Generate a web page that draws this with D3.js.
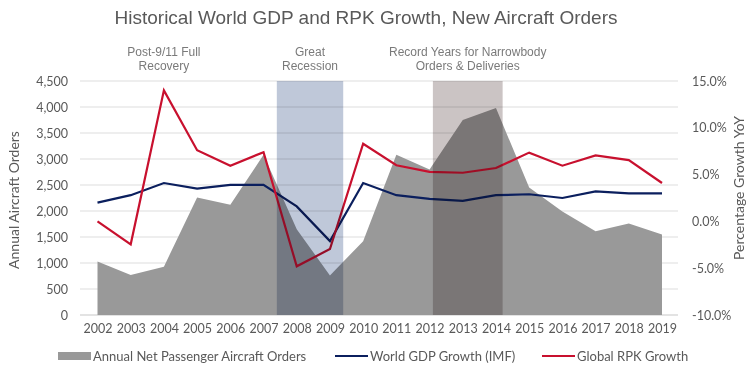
<!DOCTYPE html>
<html>
<head>
<meta charset="utf-8">
<script src="https://cdn.jsdelivr.net/npm/d3@7"></script>
<style>
  body { margin: 0; background: #fff; }
  svg text { font-family: "Liberation Sans", Arial, sans-serif; }
  .tick text { font-family: Lato, "Open Sans", sans-serif; font-size: 12.5px; fill: #595959; }
</style>
</head>
<body>
<svg id="chart" width="750" height="370"></svg>
<script>
// Data
const years = d3.range(2002, 2020);
const orders = [1030, 770, 930, 2260, 2120, 3080, 1650, 760, 1420, 3080, 2800, 3750, 3980, 2450, 1990, 1610, 1760, 1550];
const gdpGrowth = [2.0, 2.8, 4.1, 3.5, 3.9, 3.9, 1.6, -2.1, 4.1, 2.8, 2.4, 2.2, 2.8, 2.9, 2.5, 3.2, 3.0, 3.0];
const rpkGrowth = [0.0, -2.45, 14.0, 7.6, 5.95, 7.4, -4.8, -2.95, 8.3, 6.0, 5.3, 5.2, 5.7, 7.35, 5.95, 7.05, 6.55, 4.1];
const leftTicks = d3.range(0, 4501, 500);
const rightTicks = [-10, -5, 0, 5, 10, 15];

// Highlighted periods, in fractional years
const bands = [
  { from: 2007.4, to: 2009.4, color: "#bfc8d9", label: ["Great", "Recession"] },
  { from: 2012.1, to: 2014.2, color: "#cbc4c4", label: ["Record Years for Narrowbody", "Orders & Deliveries"] }
];
const notes = [{ year: 2004.0, label: ["Post-9/11 Full", "Recovery"] }];

const legend = [
  { name: "Annual Net Passenger Aircraft Orders", kind: "area", color: "#999999" },
  { name: "World GDP Growth (IMF)", kind: "line", color: "#0b1f5e" },
  { name: "Global RPK Growth", kind: "line", color: "#c8102e" }
];

const svg = d3.select("#chart");
const plot = { left: 80, right: 678, top: 81, bottom: 315 };

const x = d3.scaleLinear().domain([2002, 2019]).range([97.5, 662]);
const yL = d3.scaleLinear().domain([0, 4500]).range([plot.bottom, plot.top]);
const yR = d3.scaleLinear().domain([-10, 15]).range([plot.bottom, plot.top]);

// gridlines
svg.append("g")
  .selectAll("line")
  .data(leftTicks)
  .join("line")
  .attr("x1", plot.left)
  .attr("x2", plot.right)
  .attr("y1", (d) => yL(d))
  .attr("y2", (d) => yL(d))
  .attr("stroke", (d) => (d === 0 ? "#c8c8c8" : "#dedede"))
  .attr("stroke-width", 1.2);

// orders area
svg.append("path")
  .datum(orders)
  .attr("fill", legend[0].color)
  .attr("d", d3.area()
    .x((d, i) => x(years[i]))
    .y0(yL(0))
    .y1((d) => yL(d)));

// growth lines
const line = (scale) => d3.line().x((d, i) => x(years[i])).y((d) => scale(d));
svg.append("path")
  .datum(gdpGrowth)
  .attr("fill", "none")
  .attr("stroke", legend[1].color)
  .attr("stroke-width", 2.2)
  .attr("d", line(yR));
svg.append("path")
  .datum(rpkGrowth)
  .attr("fill", "none")
  .attr("stroke", legend[2].color)
  .attr("stroke-width", 2.2)
  .attr("d", line(yR));

// highlight bands sit on top, multiplied over the marks below
svg.append("g")
  .selectAll("rect")
  .data(bands)
  .join("rect")
  .attr("x", (d) => x(d.from))
  .attr("width", (d) => x(d.to) - x(d.from))
  .attr("y", yL(4500))
  .attr("height", yL(0) - yL(4500))
  .attr("fill", (d) => d.color)
  .style("mix-blend-mode", "multiply");

// labels above the bands
const labelled = bands.map((b) => ({ cx: x((b.from + b.to) / 2), label: b.label }))
  .concat(notes.map((n) => ({ cx: x(n.year), label: n.label })));
labelled.forEach((d) => {
  const t = svg.append("text")
    .attr("text-anchor", "middle")
    .attr("font-size", 12)
    .attr("fill", "#7a7a7a");
  d.label.forEach((s, i) => {
    t.append("tspan").attr("x", d.cx).attr("y", 56 + i * 14).text(s);
  });
});

// axes
const gl = svg.append("g")
  .attr("transform", `translate(${plot.left},0)`)
  .call(d3.axisLeft(yL).tickValues(leftTicks).tickSize(0).tickPadding(12).tickFormat(d3.format(",")));
gl.select(".domain").remove();

const gr = svg.append("g")
  .attr("transform", `translate(${plot.right},0)`)
  .call(d3.axisRight(yR).tickValues(rightTicks).tickSize(0).tickPadding(14).tickFormat((d) => d.toFixed(1) + "%"));
gr.select(".domain").remove();

const gb = svg.append("g")
  .attr("transform", `translate(0,${plot.bottom})`)
  .call(d3.axisBottom(x).tickValues(years).tickSize(0).tickPadding(9).tickFormat(d3.format("d")));
gb.select(".domain").remove();

// axis titles
svg.append("text")
  .attr("transform", "translate(19,200) rotate(-90)")
  .attr("text-anchor", "middle")
  .attr("font-size", 14)
  .attr("fill", "#595959")
  .style("font-family", "Lato, 'Open Sans', sans-serif")
  .text("Annual Aircraft Orders");
svg.append("text")
  .attr("transform", "translate(744,188) rotate(-90)")
  .attr("text-anchor", "middle")
  .attr("font-size", 14)
  .attr("fill", "#595959")
  .style("font-family", "Lato, 'Open Sans', sans-serif")
  .text("Percentage Growth YoY");

// title
svg.append("text")
  .attr("x", 366)
  .attr("y", 24)
  .attr("text-anchor", "middle")
  .attr("font-size", 19)
  .attr("fill", "#595959")
  .text("Historical World GDP and RPK Growth, New Aircraft Orders");

// legend
const legendX = [58, 335, 542];
const lg = svg.append("g");
legend.forEach((d, i) => {
  const g = lg.append("g").attr("transform", `translate(${legendX[i]},356)`);
  if (d.kind === "area") {
    g.append("rect").attr("x", 0).attr("y", -4).attr("width", 33).attr("height", 8).attr("fill", d.color);
  } else {
    g.append("line").attr("x1", 0).attr("x2", 33).attr("stroke", d.color).attr("stroke-width", 2);
  }
  g.append("text")
    .attr("x", 35)
    .attr("dy", "0.35em")
    .attr("font-size", 13)
    .attr("fill", "#595959")
    .style("font-family", "Lato, 'Open Sans', sans-serif")
    .text(d.name);
});
</script>
</body>
</html>
